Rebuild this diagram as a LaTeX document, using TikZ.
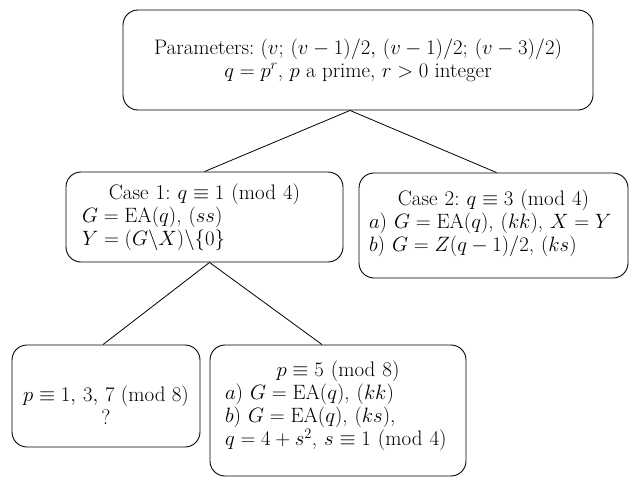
\documentclass[tikz,border=0pt]{standalone}
\usepackage{amsmath}
\usetikzlibrary{positioning}

\tikzset{
  box/.style={draw, line width=0.9pt, rounded corners=15pt, inner ysep=0pt,
    font=\fontsize{21}{23}\selectfont\frenchspacing},
  link/.style={line width=0.8pt},
}
\newcommand{\firstline}[1]{\makebox[\hsize][c]{#1}}
\newcommand{\md}[1]{(mod~#1)}

\begin{document}
\begin{tikzpicture}[x=1pt, y=-1pt]
\useasboundingbox (0,0) rectangle (630,477);

% root: parameters of the design
\node[box, align=center, minimum width=470pt, minimum height=100pt]
  (root) at (358,60)
  {Parameters: $(v;\,(v-1)/2,\,(v-1)/2;\,(v-3)/2)$\\
   $q=p^r$, $p$ a prime, $r>0$ integer};

% the two cases for q mod 4
\node[box, align=left, text width=245pt, inner xsep=16pt, minimum height=90pt]
  (case1) at (204.5,217)
  {\firstline{Case 1: $q\equiv 1$ \md{4}}\\
   $G=\mathrm{EA}(q)$, $(ss)$\\
   $Y=(G\backslash X)\backslash\{0\}$};

\node[box, align=left, text width=249pt, inner xsep=10pt, minimum height=105pt]
  (case2) at (493.5,225.5)
  {\firstline{Case 2: $q\equiv 3$ \md{4}}\\
   $a$) $G=\mathrm{EA}(q)$, $(kk)$, $X=Y$\\
   $b$) $G=Z(q-1)/2$, $(ks)$\rule[-10pt]{0pt}{0pt}};

% sub-cases of case 1 for p mod 8
\node[box, align=center, minimum width=188pt, minimum height=102pt]
  (sub1) at (106,396)
  {\rule{0pt}{34pt}$p\equiv 1,\,3,\,7$ \md{8}\\ ?};

\node[box, align=left, text width=226pt, inner xsep=15pt, minimum height=131pt]
  (sub2) at (338,410.5)
  {\firstline{$p\equiv 5$ \md{8}}\\
   $a$) $G=\mathrm{EA}(q)$, $(kk)$\\
   $b$) $G=\mathrm{EA}(q)$, $(ks)$,\\
   $q=4+s^2$, $s\equiv 1$ \md{4}\rule[-14pt]{0pt}{0pt}};

% tree edges
\coordinate (rootfoot) at ([xshift=-8pt]root.south);
\coordinate (case1foot) at ([xshift=5pt]case1.south);
\draw[link] (rootfoot) -- (case1.north);
\draw[link] (rootfoot) -- ([xshift=3pt]case2.north);
\draw[link] (case1foot) -- ([xshift=-3pt]sub1.north);
\draw[link] (case1foot) -- ([xshift=-16pt]sub2.north);
\end{tikzpicture}
\end{document}
